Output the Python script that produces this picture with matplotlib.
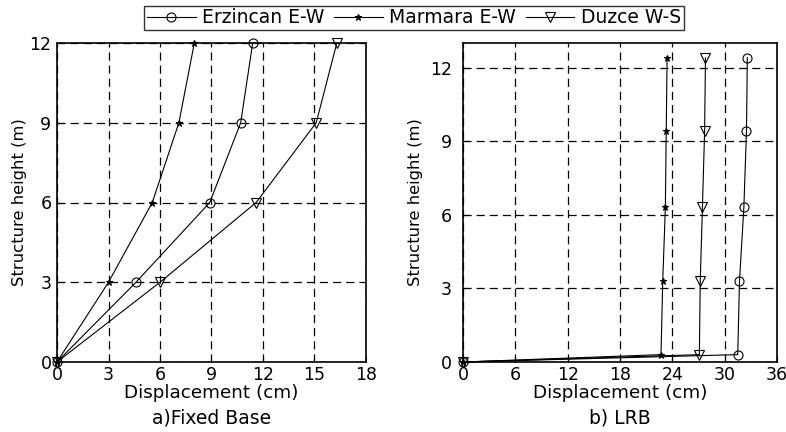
import matplotlib.pyplot as plt
from matplotlib.lines import Line2D

# a) fixed base
h_fixed = [0, 3, 6, 9, 12]
erz_fixed = [0, 4.6, 8.9, 10.7, 11.4]
mar_fixed = [0, 3.0, 5.55, 7.1, 8.0]
duz_fixed = [0, 6.0, 11.6, 15.1, 16.3]

# b) LRB
h_lrb = [0, 0.3, 3.3, 6.3, 9.4, 12.4]
erz_lrb = [0, 31.5, 31.7, 32.2, 32.5, 32.6]
mar_lrb = [0, 22.7, 22.9, 23.2, 23.3, 23.4]
duz_lrb = [0, 27.1, 27.2, 27.45, 27.7, 27.8]

names = ['Erzincan E-W', 'Marmara E-W', 'Duzce W-S']
markers = ['o', '*', 'v']
msizes = {'o': 6.5, '*': 5, 'v': 7.5}

plt.rcParams['font.family'] = ['DejaVu Sans']
fig = plt.figure(figsize=(7.86, 4.32), dpi=100)
ax1 = fig.add_axes([57/786, 1-362/432, 309/786, 319/432])
ax2 = fig.add_axes([463/786, 1-362/432, 314/786, 319/432])

def mk(m):
    return dict(color='black', linewidth=0.8, marker=m, markersize=msizes[m],
                markerfacecolor='black' if m == '*' else 'none', markeredgecolor='black',
                markeredgewidth=0.8)

def style(ax, xt, xl, yl, title, ypad, ylab_x):
    ax.set_xlim(xl)
    ax.set_ylim(yl)
    ax.set_xticks(xt)
    ax.set_yticks([0, 3, 6, 9, 12])
    ax.grid(True, color='black', linestyle=(0, (6.5, 4)), linewidth=0.9)
    ax.tick_params(direction='in', labelsize=12.5, length=4)
    ax.tick_params(axis='x', pad=3)
    ax.tick_params(axis='y', pad=ypad)
    for s in ax.spines.values():
        s.set_linewidth(1.2)
    ax.set_xlabel('Displacement (cm)', fontsize=13.2, labelpad=0)
    ax.set_ylabel('Structure height (m)', fontsize=11.8)
    ax.yaxis.set_label_coords(ylab_x, 0.5)
    ax.text(0.5, -0.145, title, transform=ax.transAxes, ha='center', va='top', fontsize=13.5)

for x, m in zip([erz_fixed, mar_fixed, duz_fixed], markers):
    ax1.plot(x, h_fixed, clip_on=False, **mk(m))
for x, m in zip([erz_lrb, mar_lrb, duz_lrb], markers):
    ax2.plot(x, h_lrb, clip_on=False, **mk(m))

style(ax1, [0, 3, 6, 9, 12, 15, 18], (0, 18), (0, 12), 'a)Fixed Base', 4, -0.097)
style(ax2, [0, 6, 12, 18, 24, 30, 36], (0, 36), (0, 13), 'b) LRB', 8, -0.127)

handles = [Line2D([], [], **mk(m)) for m in markers]
fig.legend(handles, names, loc='upper center', bbox_to_anchor=(414/786, 0.987), ncol=3,
           fontsize=13.5, frameon=True, fancybox=False, edgecolor='black', handlelength=2.6,
           borderpad=0.15, columnspacing=0.5, handletextpad=0.35, borderaxespad=0)

fig.savefig('out.png', dpi=100)
